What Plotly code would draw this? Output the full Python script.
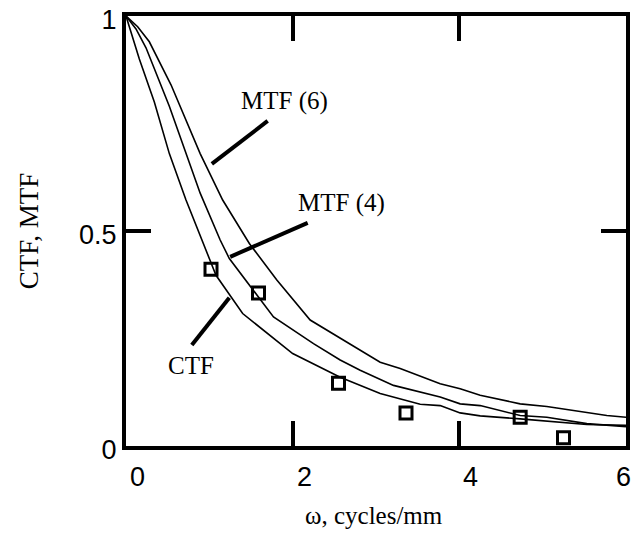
import plotly.graph_objects as go

# ---- data ----
mtf6_x = [0, 0.14, 0.28, 0.54, 0.89, 1.16, 1.48, 1.81, 2.21, 2.81, 3.05, 3.29, 3.77, 4.01, 4.25, 4.73, 5.05, 5.77, 6.0]
mtf6_y = [1.0, 0.975, 0.94, 0.84, 0.68, 0.572, 0.471, 0.386, 0.293, 0.222, 0.195, 0.18, 0.145, 0.133, 0.118, 0.098, 0.092, 0.071, 0.067]

mtf4_x = [0, 0.12, 0.24, 0.52, 0.89, 1.13, 1.24, 1.77, 2.25, 2.57, 2.81, 3.21, 3.77, 4.01, 4.25, 4.49, 4.73, 5.05, 5.29, 5.53, 6.0]
mtf4_y = [1.0, 0.97, 0.926, 0.79, 0.588, 0.479, 0.436, 0.30, 0.238, 0.20, 0.176, 0.141, 0.114, 0.098, 0.094, 0.083, 0.071, 0.067, 0.059, 0.052, 0.045]

ctf_x = [0, 0.16, 0.34, 0.52, 0.72, 1.08, 1.40, 2.0, 2.57, 2.81, 3.05, 3.53, 3.77, 4.01, 4.25, 4.73, 5.53, 6.0]
ctf_y = [1.0, 0.90, 0.80, 0.68, 0.572, 0.397, 0.308, 0.215, 0.16, 0.141, 0.122, 0.097, 0.094, 0.077, 0.070, 0.063, 0.050, 0.048]

meas_x = [1.02, 1.59, 2.55, 3.36, 4.73, 5.25]
meas_y = [0.411, 0.356, 0.146, 0.077, 0.067, 0.019]

x_ticks = [0, 2, 4, 6]
x_ticklabels = ["0", "2", "4", "6"]
y_ticks = [0, 0.5, 1]
y_ticklabels = ["0", "0.5", "1"]
x_title = "ω, cycles/mm"
y_title = "CTF, MTF"

# label annotations: text, text position, pointer start, pointer end
labels = ["MTF (6)", "MTF (4)", "CTF"]
label_x = [1.90, 2.59, 0.78]
label_y = [0.802, 0.565, 0.188]
ptr_x0 = [1.03, 1.25, 0.79]
ptr_y0 = [0.656, 0.440, 0.235]
ptr_x1 = [1.70, 2.18, 1.24]
ptr_y1 = [0.756, 0.519, 0.345]

serif = "Liberation Serif, Times New Roman, serif"
sans = "Liberation Sans, Arial, sans-serif"

fig = go.Figure()
for xs, ys in [(mtf6_x, mtf6_y), (mtf4_x, mtf4_y), (ctf_x, ctf_y)]:
    fig.add_trace(go.Scatter(x=xs, y=ys, mode="lines",
                             line=dict(color="black", width=1.6), showlegend=False))
fig.add_trace(go.Scatter(x=meas_x, y=meas_y, mode="markers",
                         marker=dict(symbol="square-open", size=12, color="black",
                                     line=dict(width=3, color="black")),
                         showlegend=False))

for t, tx, ty, a0, b0, a1, b1 in zip(labels, label_x, label_y, ptr_x0, ptr_y0, ptr_x1, ptr_y1):
    fig.add_shape(type="line", xref="x", yref="y", x0=a0, y0=b0, x1=a1, y1=b1,
                  line=dict(color="black", width=4))
    fig.add_annotation(x=tx, y=ty, xref="x", yref="y", text=t, showarrow=False,
                       font=dict(family=serif, size=25, color="black"))

# x tick labels (placed just right of each tick, last one kept inside the page)
for i, (v, t) in enumerate(zip(x_ticks, x_ticklabels)):
    last = i == len(x_ticks) - 1
    fig.add_annotation(x=v, y=0, xref="x", yref="paper", text=t, showarrow=False,
                       xanchor="right" if last else "left", yanchor="top",
                       xshift=7 if last else 2, yshift=-14,
                       font=dict(family=sans, size=27, color="black"))

# x axis title
fig.add_annotation(x=0.5, y=0, xref="paper", yref="paper", text=x_title, showarrow=False,
                   xanchor="center", yanchor="middle", yshift=-69, xshift=-2,
                   font=dict(family=serif, size=25, color="black"))

fig.update_layout(
    width=632, height=537,
    margin=dict(l=126, r=6, t=16, b=91),
    paper_bgcolor="white", plot_bgcolor="white",
    xaxis=dict(range=[0, 6], tickvals=x_ticks, showticklabels=False,
               ticks="inside", ticklen=25, tickwidth=4, tickcolor="black",
               showline=True, linewidth=4, linecolor="black", mirror="ticks",
               showgrid=False, zeroline=False, automargin=False),
    yaxis=dict(range=[0, 1], tickvals=y_ticks, ticktext=y_ticklabels,
               ticks="inside", ticklen=25, tickwidth=4, tickcolor="black",
               showline=True, linewidth=4, linecolor="black", mirror="ticks",
               showgrid=False, zeroline=False, automargin=False,
               tickfont=dict(family=sans, size=27, color="black"),
               ticklabelstandoff=0, ticklabelshift=4, ticklabeloverflow="allow",
               title=dict(text=y_title, standoff=34,
                          font=dict(family=serif, size=27, color="black"))),
)

fig.write_html("out.html")
